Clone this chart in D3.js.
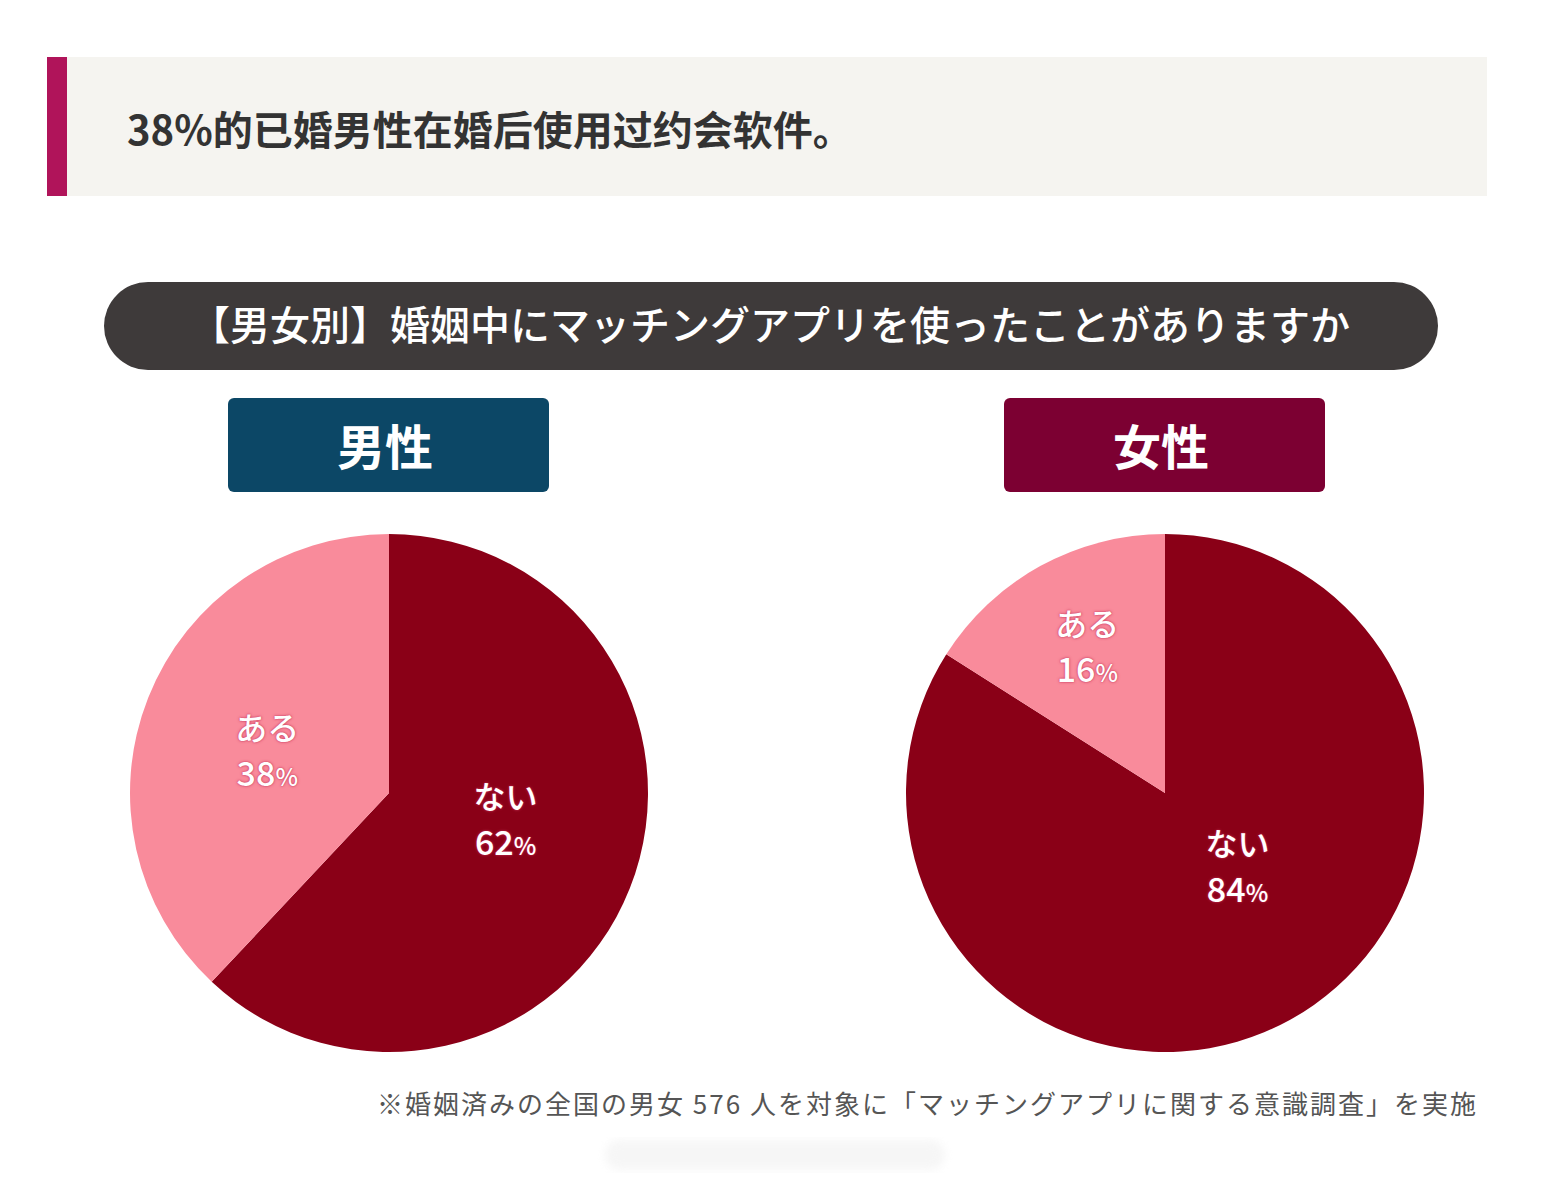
<!DOCTYPE html>
<html>
<head>
<meta charset="utf-8">
<script src="https://cdn.jsdelivr.net/npm/d3@7"></script>
<style>
  body { margin: 0; background: #fff; }
  svg { display: block; }
  .lbl { font-family: "Noto Sans CJK JP", "Noto Sans", sans-serif; font-weight: 700; fill: #fff;
         text-shadow: 0 0 3px rgba(200, 50, 90, 0.9), 0 0 1px rgba(200, 50, 90, 0.9); }
</style>
</head>
<body>
<script>
// data
const headline = "38%的已婚男性在婚后使用过约会软件。";
const question = "【男女別】婚姻中にマッチングアプリを使ったことがありますか";
const groups = ["男性", "女性"];
const answers = ["ない", "ある"];
const maleValues = [62, 38];
const femaleValues = [84, 16];
const footnote = "※婚姻済みの全国の男女 576 人を対象に「マッチングアプリに関する意識調査」を実施";

const W = 1562, H = 1186;
const R = 259;
const sliceColour = d3.scaleOrdinal().domain(answers).range(["#8a0017", "#f98b9b"]);
const groupColour = d3.scaleOrdinal().domain(groups).range(["#0c4766", "#7c0032"]);
const xCenter = d3.scalePoint().domain(groups).range([389, 1165]);
const pieCY = 793;
// label spots, as offsets in units of radius from pie centre
const labelSpots = {
  "男性": {"ない": [0.45, 0.11], "ある": [-0.47, -0.16]},
  "女性": {"ない": [0.28, 0.29], "ある": [-0.30, -0.56]}
};

const svg = d3.select("body").append("svg").attr("width", W).attr("height", H);

// headline box
svg.append("rect").attr("x", 47).attr("y", 57).attr("width", 1440).attr("height", 139).attr("fill", "#f5f4f0");
svg.append("rect").attr("x", 47).attr("y", 57).attr("width", 20).attr("height", 139).attr("fill", "#b0145a");
svg.append("text").attr("x", 127).attr("y", 145)
  .style("font-family", "'Noto Sans CJK SC', sans-serif").style("font-weight", 700)
  .style("font-size", "40px").attr("fill", "#333").text(headline);

// question banner
svg.append("rect").attr("x", 104).attr("y", 282).attr("width", 1334).attr("height", 88)
  .attr("rx", 44).attr("fill", "#3e3a3a");
svg.append("text").attr("x", 770).attr("y", 323).attr("text-anchor", "middle").attr("dominant-baseline", "central")
  .style("font-family", "'Noto Sans CJK JP', sans-serif").style("font-weight", 500)
  .style("font-size", "40px").attr("fill", "#fff").text(question);

const pie = d3.pie().sort(null).value(d => d.value);
const arc = d3.arc().innerRadius(0).outerRadius(R);

const sets = [maleValues, femaleValues];
groups.forEach((g, gi) => {
  const cx = xCenter(g);
  // group tag
  svg.append("rect").attr("x", cx - 161).attr("y", 398).attr("width", 321).attr("height", 94)
    .attr("rx", 6).attr("fill", groupColour(g));
  svg.append("text").attr("x", cx - 4).attr("y", 444).attr("text-anchor", "middle").attr("dominant-baseline", "central")
    .style("font-family", "'Noto Sans CJK JP', sans-serif").style("font-weight", 700)
    .style("font-size", "48px").attr("fill", "#fff").text(g);

  const data = answers.map((a, i) => ({answer: a, value: sets[gi][i]}));
  const gp = svg.append("g").attr("transform", `translate(${cx},${pieCY})`);
  gp.selectAll("path").data(pie(data)).join("path")
    .attr("d", arc).attr("fill", d => sliceColour(d.data.answer));

  const lab = gp.selectAll("g.lab").data(pie(data)).join("g").attr("class", "lab")
    .attr("transform", d => {
      const s = labelSpots[g][d.data.answer];
      return `translate(${s[0] * R},${s[1] * R})`;
    });
  lab.append("text").attr("class", "lbl").attr("text-anchor", "middle").attr("y", -12)
    .style("font-size", "32px").style("font-weight", 500).text(d => d.data.answer);
  const pct = lab.append("text").attr("class", "lbl").attr("text-anchor", "middle").attr("y", 34)
    .style("font-size", "34px").style("font-weight", 500);
  pct.append("tspan").text(d => d.data.value);
  pct.append("tspan").style("font-size", "24px").text("%");
});

// footnote
svg.append("text").attr("x", 1478).attr("y", 1114).attr("text-anchor", "end")
  .style("font-family", "'Noto Sans CJK JP', sans-serif").style("font-weight", 400)
  .style("font-size", "26px").style("letter-spacing", "2px").attr("fill", "#555").text(footnote);

// faint watermark remnant
const defs = svg.append("defs");
defs.append("filter").attr("id", "blur").append("feGaussianBlur").attr("stdDeviation", 4);
svg.append("rect").attr("x", 605).attr("y", 1140).attr("width", 340).attr("height", 30).attr("rx", 15)
  .attr("fill", "#e6e6e6").attr("opacity", 0.35).attr("filter", "url(#blur)");
</script>
</body>
</html>
